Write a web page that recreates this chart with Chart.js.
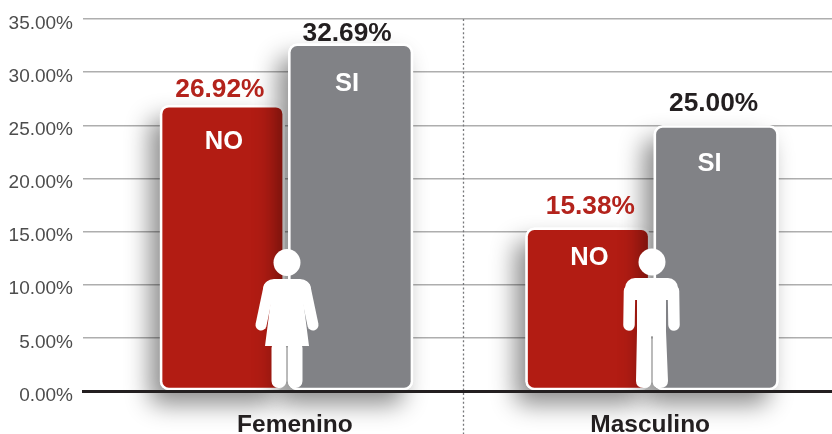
<!DOCTYPE html>
<html><head><meta charset="utf-8">
<style>html,body{margin:0;padding:0;background:#fff;overflow:hidden}canvas{display:block}</style>
<script src="https://cdn.jsdelivr.net/npm/chart.js@4/dist/chart.umd.js"></script>
</head><body><canvas id="c" width="832" height="434"></canvas>
<script>
const categories = ['Femenino', 'Masculino'];
const seriesNames = ['NO', 'SI'];
const noValues = [26.92, 15.38];
const siValues = [32.69, 25.00];
const yTicks = [0, 5, 10, 15, 20, 25, 30, 35];
const categoryLabelAt = [0.023, 0.995];
const dividerAt = 0.483;
// label placement, in px from the top of each bar
const valueLift = { NO: [15, 21], SI: [9.5, 22] };
const valueShift = { NO: [-2.5, 2.5], SI: [-3.5, -2.5] };
const innerDrop = { NO: [37, 30.5], SI: [40.5, 39] };
const innerShift = { NO: [1.5, 1.5], SI: [-3.5, -6.5] };

const RED = '#B21C13', GREY = '#818286', FONT = '"Liberation Sans", Arial, sans-serif';

function makeDataset(name, values, color) {
  return {
    label: name,
    data: values.map((v, i) => ({ x: i, y: v })),
    backgroundColor: color, borderColor: '#fff', borderWidth: 2.5,
    borderRadius: 9, borderSkipped: false, inflateAmount: 0,
    categoryPercentage: 0.722, barPercentage: 0.975
  };
}

function barShadow(chart, index) {
  const ctx = chart.ctx;
  ctx.save();
  ctx.shadowColor = 'rgba(0,0,0,0.45)';
  ctx.shadowBlur = 24; ctx.shadowOffsetX = -10; ctx.shadowOffsetY = 14;
  ctx.fillStyle = '#fff';
  chart.getDatasetMeta(index).data.forEach(b => {
    ctx.beginPath();
    ctx.roundRect(b.x - b.width / 2, b.y, b.width, b.base - b.y, 9);
    ctx.fill();
  });
  ctx.restore();
}

function limb(ctx, x1, y1, x2, y2, w) {
  ctx.lineWidth = w; ctx.lineCap = 'round';
  ctx.beginPath(); ctx.moveTo(x1, y1); ctx.lineTo(x2, y2); ctx.stroke();
}
function figureFemale(ctx, cx, b) {
  ctx.beginPath(); ctx.arc(cx, b - 128.5, 13.5, 0, 7); ctx.fill();
  ctx.beginPath();
  ctx.moveTo(cx - 13, b - 112); ctx.lineTo(cx + 13, b - 112);
  ctx.quadraticCurveTo(cx + 22, b - 112, cx + 24, b - 102);
  ctx.lineTo(cx + 16, b - 92); ctx.lineTo(cx + 22, b - 45); ctx.lineTo(cx - 22, b - 45);
  ctx.lineTo(cx - 16, b - 92); ctx.lineTo(cx - 24, b - 102);
  ctx.quadraticCurveTo(cx - 22, b - 112, cx - 13, b - 112);
  ctx.fill();
  limb(ctx, cx - 18, b - 104, cx - 26, b - 66, 11);
  limb(ctx, cx + 18, b - 104, cx + 26, b - 66, 11);
  ctx.beginPath();
  ctx.roundRect(cx - 15.5, b - 50, 14.8, 47, 7);
  ctx.roundRect(cx + 0.7, b - 50, 14.8, 47, 7);
  ctx.fill();
}
function figureMale(ctx, cx, b) {
  ctx.beginPath(); ctx.arc(cx, b - 129, 13.5, 0, 7); ctx.fill();
  ctx.beginPath(); ctx.roundRect(cx - 27, b - 113, 53, 22, 10); ctx.fill();
  ctx.beginPath(); ctx.rect(cx - 15, b - 100, 29, 45); ctx.fill();
  limb(ctx, cx - 22.5, b - 100, cx - 23, b - 66, 11.5);
  limb(ctx, cx + 21.5, b - 100, cx + 22, b - 66, 11.5);
  ctx.beginPath();
  ctx.moveTo(cx - 15, b - 60); ctx.lineTo(cx - 0.7, b - 60); ctx.lineTo(cx - 0.7, b - 9);
  ctx.quadraticCurveTo(cx - 1, b - 3, cx - 8, b - 3);
  ctx.quadraticCurveTo(cx - 16, b - 3, cx - 16, b - 10); ctx.closePath();
  ctx.moveTo(cx + 14, b - 60); ctx.lineTo(cx + 0.7, b - 60); ctx.lineTo(cx + 0.7, b - 9);
  ctx.quadraticCurveTo(cx + 1, b - 3, cx + 8, b - 3);
  ctx.quadraticCurveTo(cx + 16, b - 3, cx + 16, b - 10); ctx.closePath();
  ctx.fill();
}

const decorations = {
  id: 'decorations',
  beforeDatasetDraw(chart, args) {
    // the NO bars are painted first, the SI bars later so their shadow falls on NO
    if (args.index === 1) return false;
    barShadow(chart, args.index);
  },
  afterDatasetsDraw(chart) {
    const ctx = chart.ctx, xs = chart.scales.x, ys = chart.scales.y, base = ys.getPixelForValue(0);
    barShadow(chart, 1);
    chart.getDatasetMeta(1).data.forEach(b => b.draw(ctx, chart.chartArea));
    ctx.save();
    // dotted divider between the two groups
    ctx.strokeStyle = '#77787b'; ctx.lineWidth = 1.3; ctx.setLineDash([2, 2.4]);
    ctx.beginPath();
    const dx = Math.round(xs.getPixelForValue(dividerAt)) + 0.5;
    ctx.moveTo(dx, ys.getPixelForValue(35)); ctx.lineTo(dx, chart.height); ctx.stroke();
    ctx.setLineDash([]);
    // texts on and above the bars
    ctx.textAlign = 'center'; ctx.textBaseline = 'middle';
    chart.data.datasets.forEach((ds, d) => {
      chart.getDatasetMeta(d).data.forEach((b, i) => {
        ctx.font = 'bold 26.3px ' + FONT;
        ctx.fillStyle = ds.label === 'NO' ? '#B3231C' : '#231F20';
        ctx.fillText(ds.data[i].y.toFixed(2) + '%', b.x + valueShift[ds.label][i], b.y - valueLift[ds.label][i]);
        ctx.font = 'bold 25.5px ' + FONT;
        ctx.fillStyle = '#fff';
        ctx.fillText(ds.label, b.x + innerShift[ds.label][i], b.y + innerDrop[ds.label][i]);
      });
    });
    // pictograms
    ctx.fillStyle = '#fff'; ctx.strokeStyle = '#fff';
    figureFemale(ctx, xs.getPixelForValue(0) + 0.5, base);
    figureMale(ctx, xs.getPixelForValue(1), base);
    ctx.restore();
  }
};

new Chart(document.getElementById('c'), {
  type: 'bar',
  data: { datasets: [makeDataset(seriesNames[0], noValues, RED), makeDataset(seriesNames[1], siValues, GREY)] },
  plugins: [decorations],
  options: {
    responsive: false, animation: false, events: [],
    layout: { padding: { top: 19, left: 0, right: 0, bottom: 0 } },
    plugins: { legend: { display: false }, title: { display: false }, tooltip: { enabled: false } },
    scales: {
      x: {
        type: 'linear', offset: false, min: -0.5568, max: 1.4925,
        afterBuildTicks: s => { s.ticks = categoryLabelAt.map(v => ({ value: v })); },
        afterFit: s => { s.height = 43; },
        grid: { offset: false, drawOnChartArea: false, drawTicks: false },
        border: { display: true, color: '#231F20', width: 3, z: 1 },
        ticks: { z: 1, padding: 20, autoSkip: false, maxRotation: 0, color: '#231F20',
          font: { family: FONT, size: 24.5, weight: 'bold' },
          callback: (v, i) => categories[i] }
      },
      y: {
        min: 0, max: 35,
        afterBuildTicks: s => { s.ticks = yTicks.map(v => ({ value: v })); },
        afterFit: s => { s.width = 83; s.paddingTop = 0; s.paddingBottom = 0; },
        grid: { color: '#aeaeae', lineWidth: 1.5, drawTicks: false },
        border: { display: false },
        ticks: { padding: 10, labelOffset: 4.5, color: '#4d4d4d',
          font: { family: FONT, size: 19 },
          callback: v => v.toFixed(2) + '%' }
      }
    }
  }
});
</script></body></html>
